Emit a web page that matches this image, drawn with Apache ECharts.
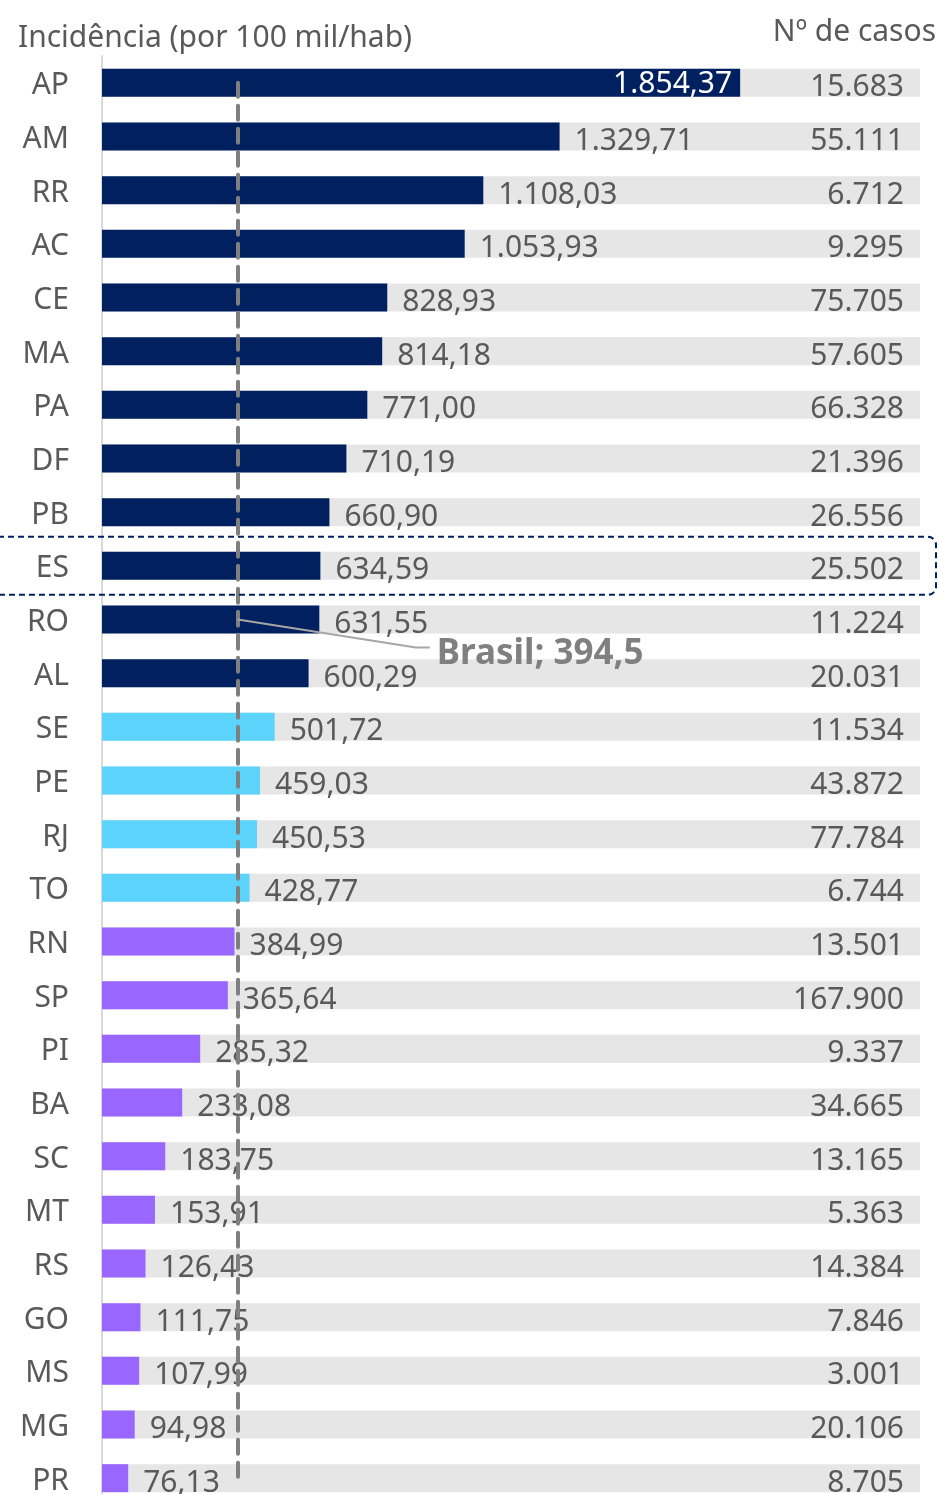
<!DOCTYPE html>
<html>
<head>
<meta charset="utf-8">
<script src="https://cdn.jsdelivr.net/npm/echarts@6/dist/echarts.min.js"></script>
<style>
  html, body { margin: 0; padding: 0; background: #fff; overflow: hidden; }
  /* o gráfico original é cortado embaixo: a área vai além da janela */
  #chart { width: 940px; height: 1512px; }
</style>
</head>
<body>
<div id="chart"></div>
<script>
// dados por UF
const estados = ['AP', 'AM', 'RR', 'AC', 'CE', 'MA', 'PA', 'DF', 'PB', 'ES', 'RO', 'AL', 'SE', 'PE',
  'RJ', 'TO', 'RN', 'SP', 'PI', 'BA', 'SC', 'MT', 'RS', 'GO', 'MS', 'MG', 'PR']
const incidencia = [1854.37, 1329.71, 1108.03, 1053.93, 828.93, 814.18, 771.00, 710.19, 660.90, 634.59,
  631.55, 600.29, 501.72, 459.03, 450.53, 428.77, 384.99, 365.64, 285.32, 233.08, 183.75, 153.91,
  126.43, 111.75, 107.99, 94.98, 76.13]
const casos = [15683, 55111, 6712, 9295, 75705, 57605, 66328, 21396, 26556, 25502, 11224, 20031, 11534,
  43872, 77784, 6744, 13501, 167900, 9337, 34665, 13165, 5363, 14384, 7846, 3001, 20106, 8705]
// faixa de cada UF
const faixas = ['alta', 'alta', 'alta', 'alta', 'alta', 'alta', 'alta', 'alta', 'alta', 'alta', 'alta', 'alta',
  'media', 'media', 'media', 'media',
  'baixa', 'baixa', 'baixa', 'baixa', 'baixa', 'baixa', 'baixa', 'baixa', 'baixa', 'baixa', 'baixa']
const mediaBrasil = 394.5
const destaque = 'ES'
const eixoMax = 2377

const corFaixa = { alta: '#002060', media: '#5CD3FA', baixa: '#9966FF' }
const fonte = '"Noto Sans", "Open Sans", sans-serif'
const cinzaTexto = '#595959'

const fmtDec = (v) => v.toLocaleString('pt-BR', { minimumFractionDigits: 2, maximumFractionDigits: 2 })
const fmtInt = (v) => v.toLocaleString('pt-BR')
const maior = Math.max(...incidencia)

const chart = echarts.init(document.getElementById('chart'))

const option = {
  animation: false,
  grid: { left: 102, right: 20, top: 56, height: 1449 },
  xAxis: {
    type: 'value',
    min: 0,
    max: eixoMax,
    show: false
  },
  yAxis: {
    type: 'category',
    inverse: true,
    data: estados,
    axisLine: { lineStyle: { color: '#D9D9D9', width: 2 } },
    axisTick: { length: 11, lineStyle: { color: '#D9D9D9', width: 2 } },
    axisLabel: {
      margin: 33,
      formatter: (v) => '{uf|' + v + '}',
      rich: {
        uf: { fontSize: 30, color: cinzaTexto, fontFamily: fonte, padding: [6, 0, 0, 0] }
      }
    }
  },
  series: [
    {
      // faixa cinza de fundo com o nº de casos
      type: 'bar',
      barWidth: 28,
      silent: true,
      data: estados.map(() => eixoMax),
      itemStyle: { color: '#E6E6E6' },
      label: {
        show: true,
        position: 'insideRight',
        distance: 16,
        offset: [0, 5],
        fontSize: 30,
        color: cinzaTexto,
        fontFamily: fonte,
        formatter: (p) => fmtInt(casos[p.dataIndex])
      }
    },
    {
      type: 'bar',
      barWidth: 28,
      barGap: '-100%',
      data: incidencia.map((v, i) => {
        const item = { value: v, itemStyle: { color: corFaixa[faixas[i]] } }
        if (v === maior) item.label = { position: 'insideRight', color: '#fff', distance: 8, offset: [0, 2] }
        return item
      }),
      label: {
        show: true,
        position: 'right',
        distance: 15,
        offset: [0, 5],
        fontSize: 30,
        color: cinzaTexto,
        fontFamily: fonte,
        formatter: (p) => fmtDec(p.value)
      },
      markLine: {
        silent: true,
        symbol: 'none',
        label: { show: false },
        lineStyle: { color: '#7F7F7F', width: 4, type: [14, 9], cap: 'round' },
        data: [[
          { coord: [mediaBrasil, estados[0]] },
          { coord: [mediaBrasil, estados[estados.length - 1]] }
        ]]
      }
    }
  ]
}
chart.setOption(option)

// anotações posicionadas a partir das escalas
const pBr = chart.convertToPixel({ xAxisIndex: 0, yAxisIndex: 0 }, [mediaBrasil, 'RO'])
const pEs = chart.convertToPixel({ xAxisIndex: 0, yAxisIndex: 0 }, [0, destaque])

chart.setOption({
  graphic: [
    {
      type: 'text',
      left: 18,
      top: 23,
      style: { text: 'Incidência (por 100 mil/hab)', fontSize: 30, fill: cinzaTexto, fontFamily: fonte }
    },
    {
      type: 'text',
      right: 4,
      top: 17,
      style: { text: 'Nº de casos', fontSize: 30, fill: cinzaTexto, fontFamily: fonte }
    },
    {
      type: 'polyline',
      silent: true,
      z: 10,
      shape: { points: [[pBr[0], pBr[1]], [pBr[0] + 178, pBr[1] + 28], [pBr[0] + 192, pBr[1] + 28]] },
      style: { stroke: '#A6A6A6', lineWidth: 2, fill: null }
    },
    {
      type: 'text',
      z: 10,
      x: pBr[0] + 199,
      y: pBr[1] + 35,
      style: {
        text: 'Brasil; 394,5', fontSize: 35, fontWeight: 'bold', fill: '#808080',
        fontFamily: fonte, verticalAlign: 'middle'
      }
    },
    {
      type: 'rect',
      silent: true,
      z: 10,
      shape: { x: -10, y: pEs[1] - 29, width: 946, height: 58, r: 8 },
      style: { stroke: '#002060', lineWidth: 2, lineDash: [6, 4], fill: null }
    }
  ]
})
</script>
</body>
</html>
